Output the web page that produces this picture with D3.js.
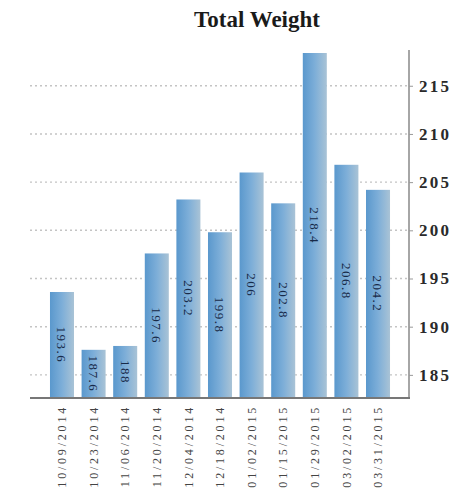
<!DOCTYPE html>
<html>
<head>
<meta charset="utf-8">
<script src="https://cdn.jsdelivr.net/npm/d3@7"></script>
<style>
  html, body { margin: 0; padding: 0; background: #fff; }
  svg { display: block; }
</style>
</head>
<body>
<svg id="chart" width="460" height="500"></svg>
<script>
// Weigh-in dates and total weight recorded on each
const dates = ["10/09/2014", "10/23/2014", "11/06/2014", "11/20/2014", "12/04/2014",
  "12/18/2014", "01/02/2015", "01/15/2015", "01/29/2015", "03/02/2015", "03/31/2015"];
const weights = [193.6, 187.6, 188, 197.6, 203.2, 199.8, 206, 202.8, 218.4, 206.8, 204.2];
const yTicks = [185, 190, 195, 200, 205, 210, 215];
const yFloor = 182.6;

const serif = "'Liberation Serif', 'Times New Roman', serif";
const svg = d3.select("#chart");
const plotLeft = 30, axisX = 409, plotTop = 53, plotBottom = 398;

const x = d3.scaleBand().domain(dates).range([42.4, 397.6]).paddingInner(0.24).paddingOuter(0.24);
const y = d3.scaleLinear().domain([yFloor, d3.max(weights)]).range([plotBottom, plotTop]);

// Horizontal gradient for the bars
const defs = svg.append("defs");
const grad = defs.append("linearGradient").attr("id", "barGrad")
  .attr("x1", "0%").attr("x2", "100%").attr("y1", "0%").attr("y2", "0%");
grad.append("stop").attr("offset", "0%").attr("stop-color", "#5a98cd");
grad.append("stop").attr("offset", "50%").attr("stop-color", "#7daed8");
grad.append("stop").attr("offset", "100%").attr("stop-color", "#a9c3d6");

// Title
svg.append("text")
  .attr("x", 257).attr("y", 27)
  .attr("text-anchor", "middle")
  .attr("font-family", serif)
  .attr("font-weight", "bold")
  .attr("font-size", 23)
  .attr("fill", "#1a1a1a")
  .text("Total Weight");

// Dotted grid lines
svg.append("g").selectAll("line").data(yTicks).join("line")
  .attr("x1", plotLeft).attr("x2", axisX)
  .attr("y1", d => y(d)).attr("y2", d => y(d))
  .attr("stroke", "#c4c4c4").attr("stroke-width", 1.4)
  .attr("stroke-dasharray", "2,3");

// Bars
svg.append("g").selectAll("rect").data(weights).join("rect")
  .attr("x", (d, i) => x(dates[i]))
  .attr("y", d => y(d))
  .attr("width", x.bandwidth())
  .attr("height", d => plotBottom - y(d))
  .attr("fill", "url(#barGrad)");

// Value labels inside bars
svg.append("g").selectAll("text").data(weights).join("text")
  .attr("transform", (d, i) => {
    const cx = x(dates[i]) + x.bandwidth() / 2;
    const cy = (y(d) + plotBottom) / 2;
    return `translate(${cx},${cy}) rotate(90)`;
  })
  .attr("text-anchor", "middle")
  .attr("dy", "0.35em")
  .attr("font-family", serif)
  .attr("font-size", 13)
  .attr("letter-spacing", 1.5)
  .attr("fill", "#182a48")
  .text(d => d);

// Right-hand y axis
const yAxis = d3.axisRight(y).tickValues(yTicks).tickSize(4).tickPadding(6);
const gy = svg.append("g").attr("transform", `translate(${axisX},0)`).call(yAxis);
gy.attr("font-family", serif);
gy.select(".domain").attr("d", `M0,${plotTop - 3}V${plotBottom}`).attr("stroke", "#888").attr("stroke-width", 1.5);
gy.selectAll(".tick line").attr("stroke", "#999");
gy.selectAll(".tick text")
  .attr("font-family", serif)
  .attr("font-size", 17)
  .attr("font-weight", "bold")
  .attr("letter-spacing", 2.2)
  .attr("fill", "#2a2a2a");

// Bottom axis with rotated date labels
const xAxis = d3.axisBottom(x).tickSize(0).tickPadding(0);
const gx = svg.append("g").attr("transform", `translate(0,${plotBottom})`).call(xAxis);
gx.attr("font-family", serif);
gx.select(".domain").attr("d", `M${plotLeft},0H${axisX + 1}`).attr("stroke", "#777").attr("stroke-width", 2);
gx.selectAll(".tick text")
  .attr("transform", "rotate(-90)")
  .attr("x", -7).attr("y", 0).attr("dy", "0.35em")
  .attr("text-anchor", "end")
  .attr("font-family", serif)
  .attr("font-size", 12)
  .attr("letter-spacing", 2.8)
  .attr("fill", "#444");
</script>
</body>
</html>
